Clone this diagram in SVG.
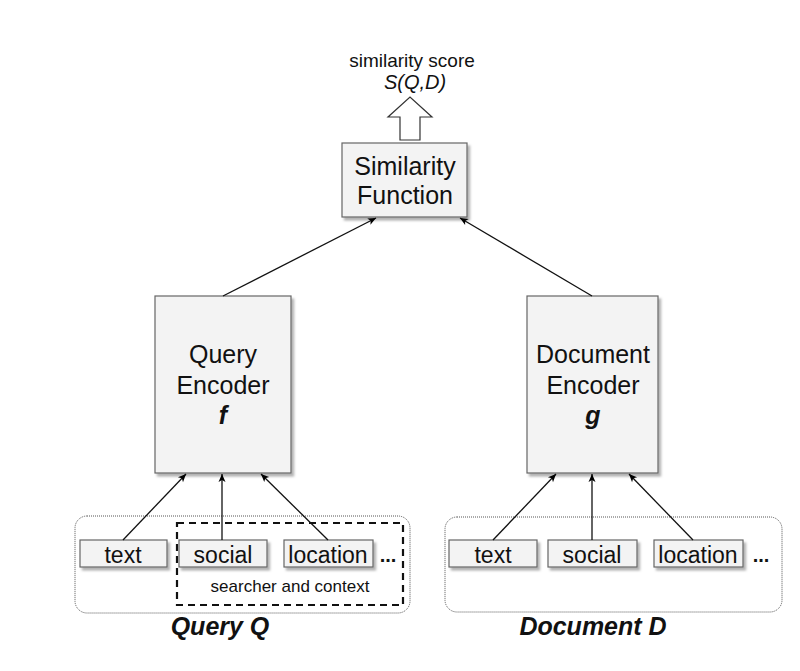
<svg xmlns="http://www.w3.org/2000/svg" width="800" height="671" viewBox="0 0 800 671">
<defs>
<filter id="sh" x="-10%" y="-10%" width="130%" height="130%">
<feDropShadow dx="2.5" dy="3" stdDeviation="0.8" flood-color="#000" flood-opacity="0.3"/>
</filter>
<marker id="ah" markerWidth="10" markerHeight="10" refX="9" refY="5" orient="auto" markerUnits="userSpaceOnUse">
<path d="M1,1.5 L9,5 L1,8.5 L3,5 Z" fill="#000"/>
</marker>
<style>
.box{fill:#f3f3f3;stroke:#666;stroke-width:1.2;filter:url(#sh)}
.t{font-family:"Liberation Sans",Arial,sans-serif;fill:#111;text-anchor:middle}
.c{stroke:#111;stroke-width:1.3;fill:none;marker-end:url(#ah)}
.grp{fill:#fff;stroke:#555;stroke-width:1;stroke-dasharray:1 1}
.in{font-size:23px}
</style>
</defs>
<rect width="800" height="671" fill="#fff"/>

<g id="output">
<text class="t" x="412" y="67" font-size="19">similarity score</text>
<text class="t" x="415" y="89" font-size="20" font-style="italic">S(Q,D)</text>
<path d="M400,140 L420,140 L420,117 L432,117 L410,97 L388,117 L400,117 Z" fill="#fff" stroke="#333" stroke-width="1.2"/>
</g>

<g id="similarity">
<rect class="box" x="342" y="143" width="125" height="74"/>
<text class="t" x="405" y="175" font-size="25">Similarity</text>
<text class="t" x="405" y="204" font-size="25">Function</text>
</g>

<g id="query-group">
<rect class="grp" x="75" y="516" width="335" height="97" rx="12"/>
<text class="t" x="220" y="635" font-size="25" font-weight="bold" font-style="italic">Query Q</text>
</g>
<g id="doc-group">
<rect class="grp" x="445" y="517" width="337" height="95" rx="12"/>
<text class="t" x="593" y="635" font-size="25" font-weight="bold" font-style="italic">Document D</text>
</g>

<g id="query-encoder">
<rect class="box" x="155" y="296" width="136" height="177"/>
<text class="t" x="223" y="363" font-size="25">Query</text>
<text class="t" x="223" y="394" font-size="25">Encoder</text>
<text class="t" x="223" y="424" font-size="25" font-weight="bold" font-style="italic">f</text>
</g>
<g id="document-encoder">
<rect class="box" x="527" y="296" width="131" height="177"/>
<text class="t" x="593" y="363" font-size="25">Document</text>
<text class="t" x="593" y="394" font-size="25">Encoder</text>
<text class="t" x="593" y="424" font-size="25" font-weight="bold" font-style="italic">g</text>
</g>

<g id="context">
<rect x="177" y="523" width="226" height="82" fill="none" stroke="#111" stroke-width="2.2" stroke-dasharray="7 5"/>
<text class="t" x="290" y="592" font-size="17">searcher and context</text>
</g>

<g id="q-text"><rect class="box" x="80" y="540" width="87" height="27"/><text class="t in" x="123" y="563">text</text></g>
<g id="q-social"><rect class="box" x="179" y="540" width="88" height="27"/><text class="t in" x="223" y="563">social</text></g>
<g id="q-location"><rect class="box" x="284" y="540" width="89" height="27"/><text class="t in" x="328" y="563">location</text></g>
<text class="t" x="388" y="562" font-size="20" font-weight="bold">...</text>

<g id="d-text"><rect class="box" x="449" y="540" width="88" height="27"/><text class="t in" x="493" y="563">text</text></g>
<g id="d-social"><rect class="box" x="548" y="540" width="89" height="27"/><text class="t in" x="592" y="563">social</text></g>
<g id="d-location"><rect class="box" x="654" y="540" width="89" height="27"/><text class="t in" x="698" y="563">location</text></g>
<text class="t" x="761" y="562" font-size="20" font-weight="bold">...</text>

<g id="connectors">
<line class="c" x1="223" y1="296" x2="376" y2="218"/>
<line class="c" x1="592" y1="296" x2="460" y2="218"/>
<line class="c" x1="123" y1="540" x2="186" y2="474"/>
<line class="c" x1="222" y1="540" x2="222" y2="474"/>
<line class="c" x1="328" y1="540" x2="261" y2="474"/>
<line class="c" x1="493" y1="540" x2="556" y2="474"/>
<line class="c" x1="592" y1="540" x2="592" y2="474"/>
<line class="c" x1="693" y1="540" x2="629" y2="474"/>
</g>
</svg>
